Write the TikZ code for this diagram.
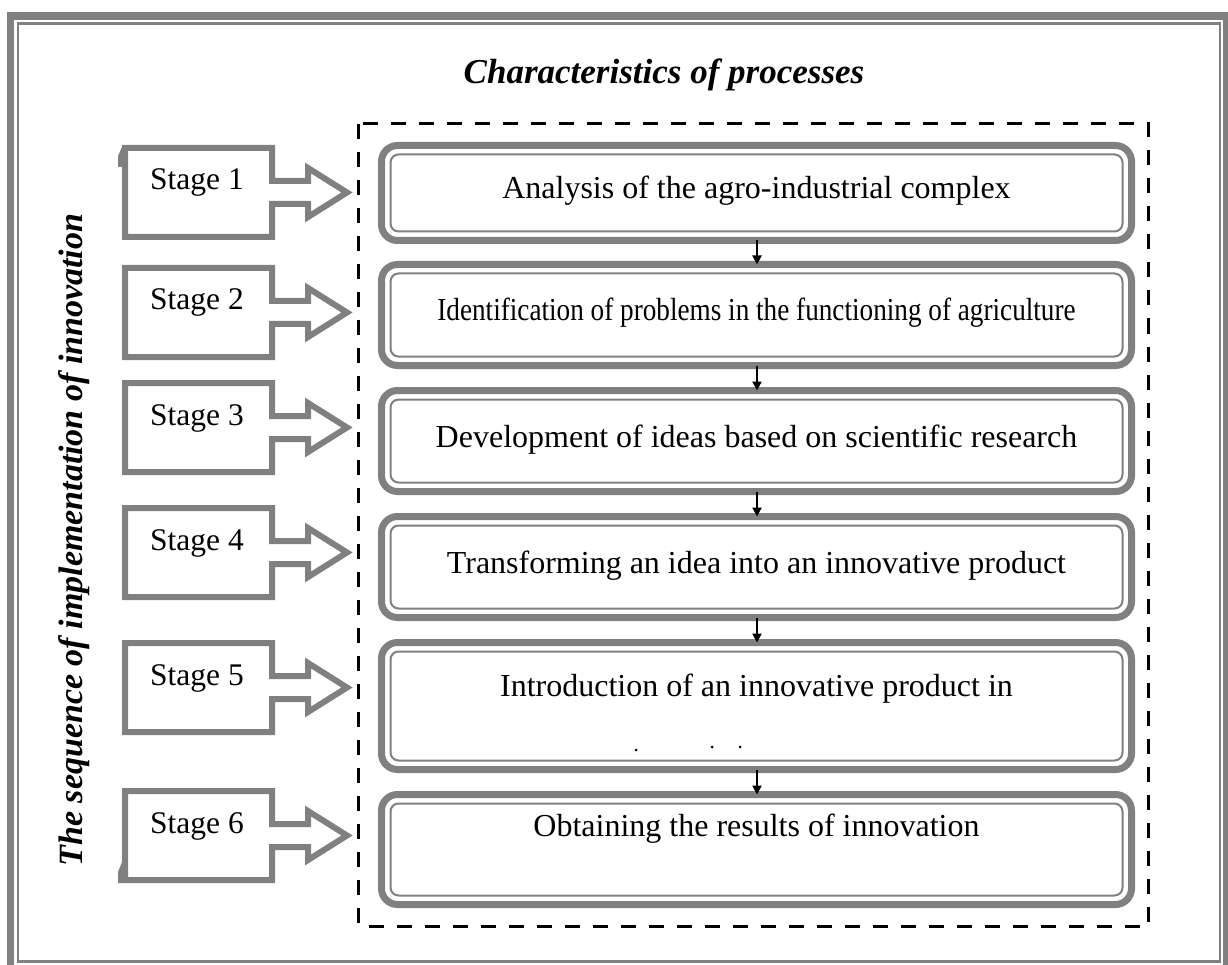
\documentclass[tikz,border=0pt]{standalone}
\usepackage{fontspec}
\setmainfont{Liberation Serif}
\usetikzlibrary{arrows.meta}
\definecolor{framegray}{HTML}{808080}

% One stage callout: a box with a hollow arrow on its right side.
% #1 = y of the top edge, #2 = label, #3 = node name
\newcommand\stagecallout[3]{%
  \draw[stageline] (125,#1) -- (272,#1) -- (272,#1+33) -- (308,#1+33)
    -- (308,#1+20) -- (347,#1+44.5) -- (308,#1+69) -- (308,#1+56)
    -- (272,#1+56) -- (272,#1+89) -- (125,#1+89) -- cycle;
  \node[stagelabel] (#3) at (197,#1+42) {#2};
  \coordinate (#3tip) at (347,#1+44.5);
}

% One process box: thick outer rounded border with a thin inner one.
% #1 = name, #2 = centre y, #3 = height
\newcommand\procbox[3]{%
  \node[procouter, minimum height=#3] (#1) at (756.5,#2) {};
  \draw[procinner] ([shift={(9,9)}]#1.north west) rectangle ([shift={(-9,-9)}]#1.south east);
}

\begin{document}
\begin{tikzpicture}[x=1pt,y=-1pt,
  stageline/.style={draw=framegray, line width=6pt, fill=white, line join=miter},
  stagelabel/.style={font=\fontsize{31.5}{38}\selectfont, anchor=base, inner sep=0pt},
  procouter/.style={draw=framegray, line width=7pt, rounded corners=16pt, fill=white,
    minimum width=750pt, inner sep=0pt, outer sep=0pt},
  procinner/.style={draw=framegray, line width=2pt, rounded corners=8pt},
  proctext/.style={font=\fontsize{32}{38}\selectfont, anchor=base, inner sep=0pt},
  heading/.style={font=\fontsize{35}{42}\selectfont\bfseries\itshape, inner sep=0pt},
  flow/.style={black, line width=2.5pt, -{Triangle[length=9pt,width=9pt]}},
]
\useasboundingbox (0,0) rectangle (1228,965);

% page frame: thick outer line, thin inner line
\draw[framegray, line width=7.5pt] (10.5,16) rectangle (1226.5,980);
\draw[framegray, line width=2.5pt] (18,23.5) rectangle (1220,961.5);

% headings
\node[heading] (title) at (664,75) {Characteristics of processes};
\node[heading, font=\fontsize{34}{40}\selectfont\bfseries\itshape, rotate=90, anchor=base] (seq) at (82,540)
  {The sequence of implementation of innovation};

% dashed frame around the processes
\draw[black, line width=3pt, dash pattern=on 15pt off 13pt] (358.5,124) rectangle (1148,926);

% process boxes
\procbox{b1}{193}{95pt}
\procbox{b2}{315}{101pt}
\procbox{b3}{441}{101pt}
\procbox{b4}{567}{101pt}
\procbox{b5}{706}{127pt}
\procbox{b6}{849.5}{110pt}

\node[proctext] (t1) at (756.5,199) {Analysis of the agro-industrial complex};
\node[proctext] (t2) at (756.5,321) {\scalebox{0.85}[1]{Identification of problems in the functioning of agriculture}};
\node[proctext] (t3) at (756.5,447) {Development of ideas based on scientific research};
\node[proctext] (t4) at (756.5,573) {Transforming an idea into an innovative product};
\node[proctext] (t5) at (756.5,696) {Introduction of an innovative product in};
\node[proctext] (t6) at (756.5,836) {Obtaining the results of innovation};

% remnants of the clipped second line in box 5
\fill (636,750) circle (1.5pt);
\fill (712,747) circle (1.5pt);
\fill (740,747) circle (1.5pt);

% flow between the process boxes
\draw[flow] (b1.south -| 757,0) -- (b2.north -| 757,0);
\draw[flow] (b2.south -| 757,0) -- (b3.north -| 757,0);
\draw[flow] (b3.south -| 757,0) -- (b4.north -| 757,0);
\draw[flow] (b4.south -| 757,0) -- (b5.north -| 757,0);
\draw[flow] (b5.south -| 757,0) -- (b6.north -| 757,0);

% stage callouts
\stagecallout{148}{Stage 1}{s1}
\stagecallout{268}{Stage 2}{s2}
\stagecallout{383}{Stage 3}{s3}
\stagecallout{508}{Stage 4}{s4}
\stagecallout{643}{Stage 5}{s5}
\stagecallout{791}{Stage 6}{s6}

% small slivers on the outer corners of the first and last callouts
\fill[framegray] (122,147) -- (118,156) -- (118,167) -- (122,167) -- cycle;
\fill[framegray] (122,862) -- (118,872) -- (118,883) -- (122,883) -- cycle;
\end{tikzpicture}
\end{document}
